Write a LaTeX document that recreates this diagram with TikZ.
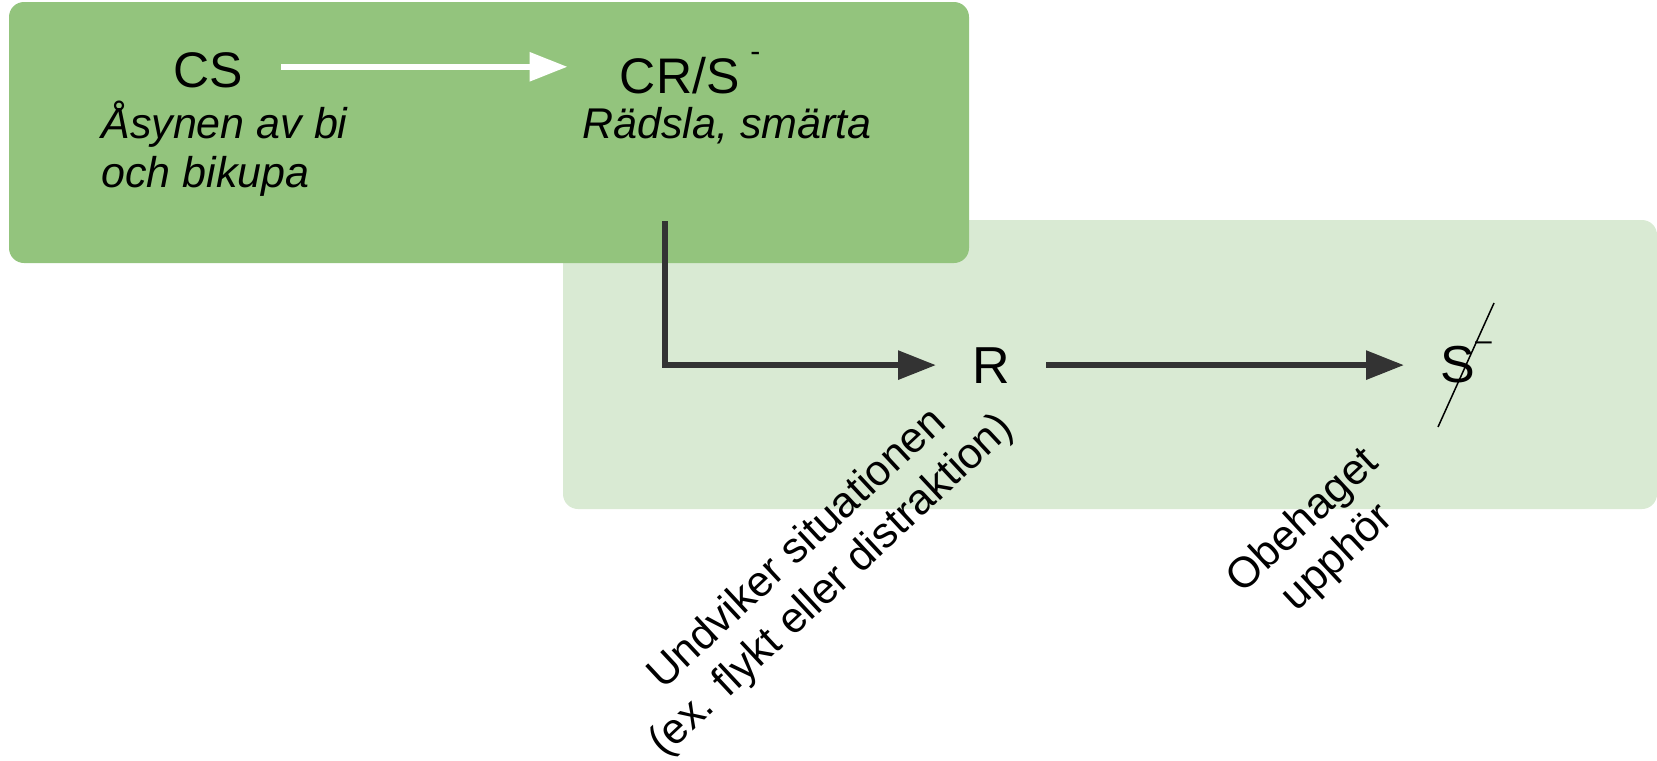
\documentclass[tikz,border=0pt]{standalone}
\usepackage{fontspec}
\setmainfont{Liberation Sans}
\usetikzlibrary{arrows.meta}
\definecolor{darkgreen}{HTML}{93C47D}
\definecolor{lightgreen}{HTML}{D9EAD3}
\definecolor{arrowgrey}{HTML}{333333}
\newcommand{\supdash}[1]{\raisebox{15.8pt}{\fontsize{15}{15}\selectfont #1}}

\begin{document}
\begin{tikzpicture}
        [x=0.5pt, y=-0.5pt,
        box/.style={rounded corners=7.5pt},
        term/.style={font=\fontsize{25}{30}\selectfont, inner ysep=0pt},
        bigterm/.style={font=\fontsize{26}{30}\selectfont, inner ysep=0pt, inner xsep=18pt},
        note/.style={font=\fontsize{21.5}{24.5}\selectfont\itshape, align=left, inner sep=0pt},
        slanted/.style={font=\fontsize{21.5}{25}\selectfont, align=center, rotate=43, inner sep=0pt},
        whitearrow/.style={white, line width=3pt, -{Triangle[length=19pt,width=14pt]}},
        darkarrow/.style={arrowgrey, line width=3pt, -{Triangle[length=19pt,width=14pt]}}]

        \useasboundingbox (0,0) rectangle (1657,760);

        % the two boxes
        \fill[lightgreen, box] (563,220) rectangle (1657,509);
        \fill[darkgreen, box] (9,2) rectangle (969,263);

        \node[term, inner xsep=19pt, anchor=base] (cs) at (208,87) {CS};
        \node[term, inner xsep=26pt, anchor=base west] (crs) at (567.5,93) {CR/S\hspace{5.5pt}\supdash{-}};
        \node[note, anchor=base west] (cslabel) at (101,187) {Åsynen av bi\\och bikupa};
        \node[note, anchor=base west] (crslabel) at (582,138) {Rädsla, smärta};

        \node[bigterm, anchor=base west] (r) at (936,383) {R};
        \node[bigterm, anchor=base west] (s) at (1404,382) {S\supdash{--}};
        \coordinate (crsfoot) at (665,221);

        % rotated labels
        \node[slanted] (avoid) at (815,568) {Undviker situationen\\(ex. flykt eller distraktion)};
        \node[slanted] (relief) at (1321,540) {Obehaget\\upphör};

        % arrows
        \draw[whitearrow] ([yshift=1.5pt]cs.east) -- ([yshift=1.5pt]cs.east -| crs.west);
        \draw[darkarrow] (crsfoot) |- (r.west);
        \draw[darkarrow] (r.east) -- (r.east -| s.west);

        % S crossed out
        \draw[line width=0.75pt] (1438,427) -- (1494,303);

\end{tikzpicture}
\end{document}
